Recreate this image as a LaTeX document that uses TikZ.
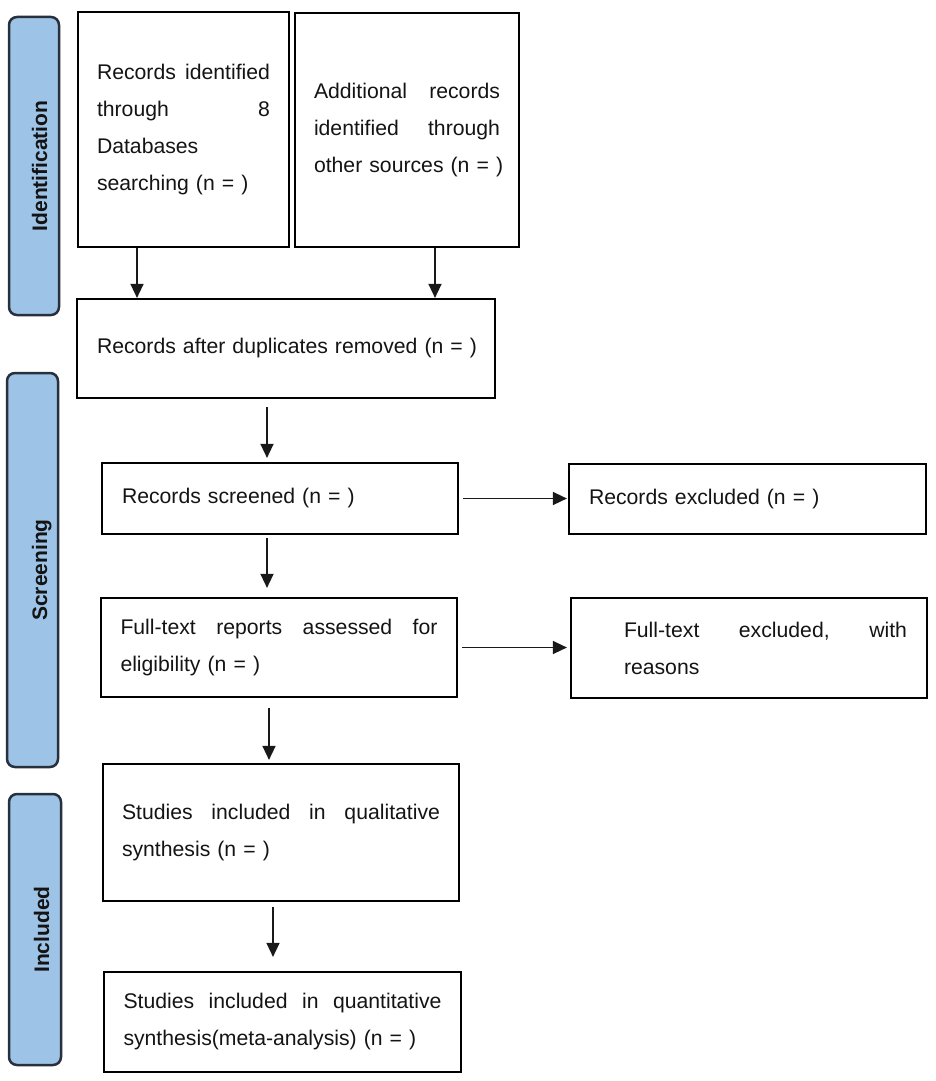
\documentclass[tikz,border=0pt]{standalone}
\usepackage{fontspec}
\setmainfont{Liberation Sans}
\usetikzlibrary{arrows.meta,calc}
\definecolor{barfill}{RGB}{157,195,230}
\definecolor{barline}{RGB}{40,48,62}
\newcommand\jline[2]{\leavevmode\hbox to #1{#2}}
\begin{document}
\begin{tikzpicture}[x=1pt,y=-1pt,
  box/.style={draw=black, line width=2.2pt, fill=white, inner xsep=0pt, inner ysep=0pt,
    align=left, font=\fontsize{21.2}{37}\selectfont, text=black!92},
  bar/.style={draw=barline, line width=2.5pt, fill=barfill, rounded corners=8pt, inner sep=0pt},
  barlabel/.style={rotate=90, anchor=base, inner sep=0pt, text=black!92,
    font=\bfseries\fontsize{21}{25}\selectfont},
  arr/.style={draw=black!90, line width=1.5pt, -{Triangle[length=14pt,width=13pt]}}]
\useasboundingbox (0,0) rectangle (935,1081);
\fill[white] (0,0) rectangle (935,1081);

% side bars
\node[bar, minimum width=50pt, minimum height=298pt] (idbar) at (34,166) {};
\node[barlabel] (idlab) at (47,166) {Identification};
\node[bar, minimum width=51pt, minimum height=394pt] (scbar) at (32.5,570) {};
\node[barlabel] (sclab) at (47,570) {Screening};
\node[bar, minimum width=52pt, minimum height=271pt] (inbar) at (35,929.5) {};
\node[barlabel] (inlab) at (49,929.5) {Included};

% boxes
\node[box, minimum width=211pt, minimum height=235pt, text width=173pt] (A) at (183.5,129.5)
  {\jline{173pt}{Records\hfill identified}\\ \jline{173pt}{through\hfill 8}\\ Databases\\ searching (n = )};
\node[box, minimum width=224pt, minimum height=234pt, text width=186pt] (B) at (407,130)
  {\jline{186pt}{Additional\hfill records}\\ \jline{186pt}{identified\hfill through}\\ \mbox{other sources (n = )}};
\node[box, minimum width=418pt, minimum height=99pt, text width=378pt] (C) at (286,348.5)
  {\mbox{Records after duplicates removed (n = )}};
\node[box, minimum width=356pt, minimum height=71pt, text width=316pt] (D) at (280,498.5)
  {Records screened (n = )};
\node[box, minimum width=357pt, minimum height=70pt, text width=317pt] (F) at (747.5,499)
  {Records excluded (n = )};
\node[box, minimum width=356pt, minimum height=99pt, text width=317pt] (E) at (279,647.5)
  {\jline{317pt}{Full-text\hfill reports\hfill assessed\hfill for}\\ eligibility (n = )};
\node[box, minimum width=356pt, minimum height=100pt, text width=316pt] (G) at (749,648)
  {\hspace*{33pt}\jline{283pt}{Full-text\hfill excluded,\hfill with}\\ \hspace*{33pt}reasons};
\node[box, minimum width=356pt, minimum height=137pt, text width=318pt] (H) at (281,832.5)
  {\jline{318pt}{Studies\hfill included\hfill in\hfill qualitative}\\ synthesis (n = )};
\node[box, minimum width=357pt, minimum height=100pt, text width=318pt] (I) at (282.5,1022)
  {\jline{318pt}{Studies\hfill included\hfill in\hfill quantitative}\\ synthesis(meta-analysis) (n = )};

% connectors
\draw[arr] ([xshift=-46.5pt]A.south) -- ([xshift=-46.5pt]A.south |- C.north);
\draw[arr] ([xshift=28pt]B.south) -- ([xshift=28pt]B.south |- C.north);
\draw[arr, shorten <=8pt, shorten >=4pt] ([xshift=-19pt]C.south) -- ([xshift=-19pt]C.south |- D.north);
\draw[arr, shorten <=3pt, shorten >=9pt] ([xshift=-13pt]D.south) -- ([xshift=-13pt]D.south |- E.north);
\draw[arr, shorten <=4pt, shorten >=1pt] (D.east) -- (D.east -| F.west);
\draw[arr, shorten <=4pt, shorten >=3pt] (E.east) -- (E.east -| G.west);
\draw[arr, shorten <=10pt, shorten >=3pt] ([xshift=-10pt]E.south) -- ([xshift=-10pt]E.south |- H.north);
\draw[arr, shorten <=5pt, shorten >=14pt] ([xshift=-8pt]H.south) -- ([xshift=-8pt]H.south |- I.north);
\end{tikzpicture}
\end{document}
